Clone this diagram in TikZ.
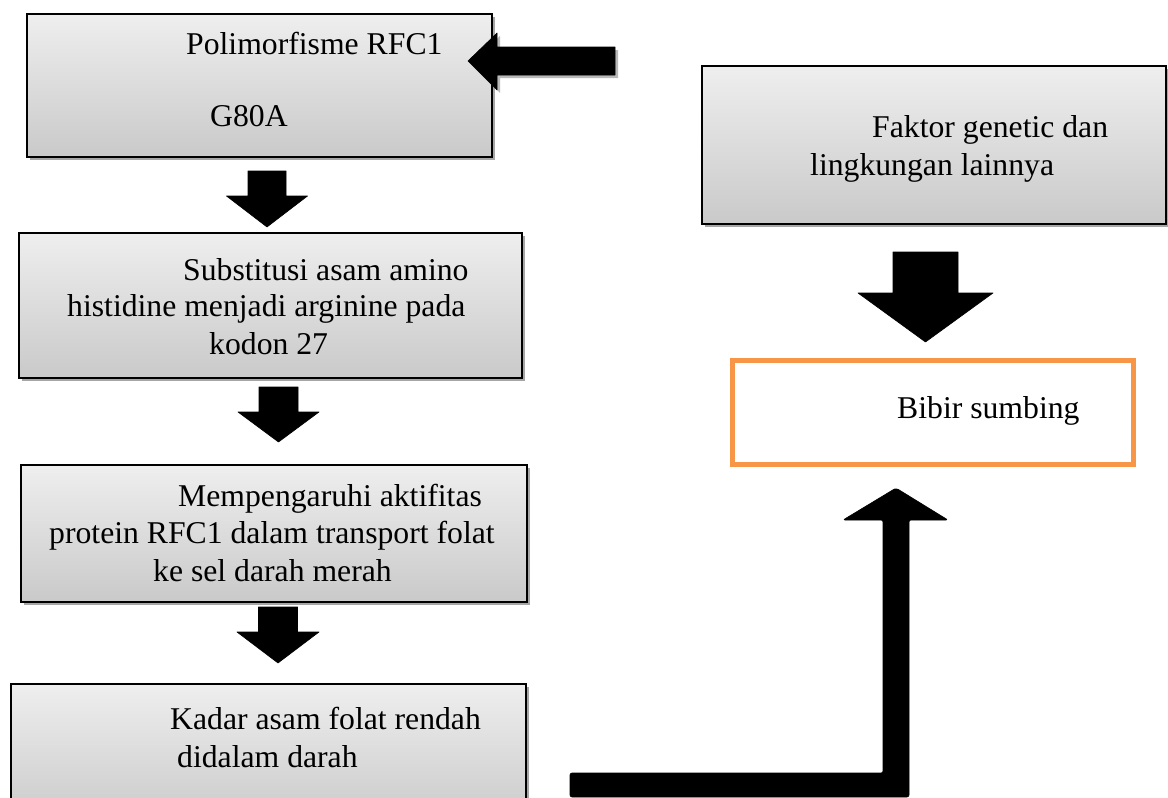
\documentclass[tikz,border=0pt]{standalone}
\usepackage{fontspec}
\setmainfont{Liberation Serif}
\usetikzlibrary{shadows}
\definecolor{orangeline}{HTML}{F79646}
\tikzset{
  gbox/.style={draw=black, line width=1.8pt, top color=gray!13, bottom color=gray!42,
    drop shadow={shadow xshift=3.5pt, shadow yshift=-3.5pt, fill=gray!70, opacity=1},
    inner sep=0pt, anchor=north west},
  obox/.style={draw=orangeline, line width=4.5pt, fill=white, inner sep=0pt, anchor=north west},
  txt/.style={anchor=base west, inner sep=0pt, font=\fontsize{31.7}{37}\selectfont},
  blk/.style={fill=black, draw=black, line width=0.6pt, line join=round},
  blkshadow/.style={fill=gray!55}
}
\newcommand\blkdown[6]{%
  \path[blk] ({#1-#3},#2) -- ({#1+#3},#2) -- ({#1+#3},#4) -- ({#1+#5},#4) -- (#1,#6)
    -- ({#1-#5},#4) -- ({#1-#3},#4) -- cycle;}
\begin{document}
\begin{tikzpicture}[x=1pt,y=-1pt]
\useasboundingbox (0,0) rectangle (1168,798);
\clip (0,0) rectangle (1168,798);
\fill[white] (0,0) rectangle (1168,798);

% left column boxes
\node[gbox, minimum width=465pt, minimum height=143pt] (b1) at (26,13) {};
\node[gbox, minimum width=503pt, minimum height=145pt] (b2) at (18,232) {};
\node[gbox, minimum width=506pt, minimum height=137pt] (b3) at (20,464) {};
\node[gbox, minimum width=515pt, minimum height=140pt] (b4) at (10,683) {};
% right column
\node[gbox, minimum width=464pt, minimum height=158pt] (r1) at (701,65) {};
\node[obox, minimum width=401pt, minimum height=104pt] (r2) at (730,358) {};

% texts
\node[txt] (t1a) at (186,54) {Polimorfisme RFC1};
\node[txt] (t1b) at (210,126) {G80A};
\node[txt] (t2a) at (183,280) {Substitusi asam amino};
\node[txt] (t2b) at (67,316) {histidine menjadi arginine pada};
\node[txt] (t2c) at (209,354) {kodon 27};
\node[txt] (t3a) at (178,506) {Mempengaruhi aktifitas};
\node[txt] (t3b) at (49,543) {protein RFC1 dalam transport folat};
\node[txt] (t3c) at (153,581) {ke sel darah merah};
\node[txt] (t4a) at (170,729) {Kadar asam folat rendah};
\node[txt] (t4b) at (177,767) {didalam darah};
\node[txt] (tra) at (872,137) {Faktor genetic dan};
\node[txt] (trb) at (810,175) {lingkungan lainnya};
\node[txt] (tob) at (897,418) {Bibir sumbing};

% left arrow into box 1 (with shadow)
\coordinate (lstart) at (615,61);
\fill[blkshadow] (618,50) -- (500,50) -- (500,36) -- (471,64) -- (500,93) -- (500,78) -- (618,78) -- cycle;
\path[blk] (615,47) -- (497,47) -- (497,33) -- (468,61) -- (497,90) -- (497,75) -- (615,75) -- cycle;

% down block arrows
\blkdown{267}{171}{19}{196}{40.5}{227}
\blkdown{278.5}{387}{19.5}{412}{40.5}{442}
\blkdown{278}{607}{19.5}{632}{41}{663}
\blkdown{925.5}{252}{32.5}{293}{67.5}{342}

% elbow arrow into Bibir sumbing
\path[blk, rounded corners=2pt] (570,773) -- (883,773) -- (883,520) -- (843,520) -- (896,488)
  -- (948,520) -- (909,520) -- (909,797) -- (570,797) -- cycle;
\end{tikzpicture}
\end{document}
